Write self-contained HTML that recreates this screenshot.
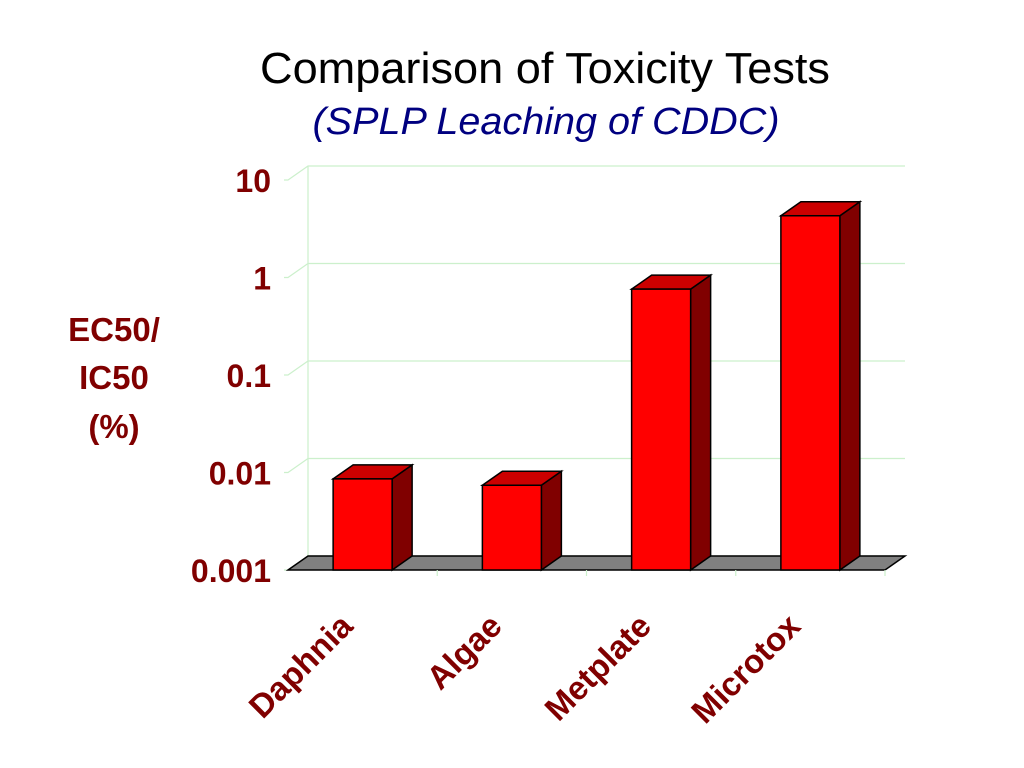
<!DOCTYPE html>
<html><head><meta charset="utf-8"><style>
body{margin:0;background:#fff;}
svg{display:block;font-family:"Liberation Sans",sans-serif;}
</style></head><body>
<svg width="1024" height="768">
<text x="545" y="83" font-size="44" text-anchor="middle" fill="#000" textLength="570" lengthAdjust="spacingAndGlyphs">Comparison of Toxicity Tests</text>
<text x="546" y="134" font-size="38" font-style="italic" text-anchor="middle" fill="#000080" textLength="467" lengthAdjust="spacingAndGlyphs">(SPLP Leaching of CDDC)</text>
<g fill="#800000" font-weight="bold" font-size="33" text-anchor="middle">
<text x="114" y="341">EC50/</text><text x="114" y="389">IC50</text><text x="114" y="438">(%)</text></g>
<g id="grid"></g><g id="floor"></g><g id="bars"></g><g id="labels"></g>
</svg>
<script>
const categories=["Daphnia","Algae","Metplate","Microtox"];
const values=[0.0086,0.0074,0.76,4.3];
const tickValues=[0.001,0.01,0.1,1,10];
const tickLabels=["0.001","0.01","0.1","1","10"];
const NS="http://www.w3.org/2000/svg";
const x0=288,x1=885,yBase=570,dec=97.5,dx=20,dy=-14;
function y(v){return yBase-(Math.log10(v)+3)*dec;}
function xc(i){return x0+(x1-x0)/categories.length*(i+0.5);}
function mk(tag,attrs,parent){const e=document.createElementNS(NS,tag);for(const k in attrs)e.setAttribute(k,attrs[k]);parent.appendChild(e);return e;}
const grid=document.getElementById('grid'),floor=document.getElementById('floor'),bars=document.getElementById('bars'),labels=document.getElementById('labels');
tickValues.forEach((v,i)=>{
  const yy=y(v);
  const g=mk('polyline',{points:`${x0-4},${yy} ${x0},${yy} ${x0+dx},${yy+dy} ${x1+dx},${yy+dy}`,fill:'none',stroke:'#ccf0cc','stroke-width':1.2},grid);
  
  
  const t=mk('text',{x:271,y:yy+12,'font-size':32,'font-weight':'bold','text-anchor':'end',fill:'#800000'},labels);
  t.textContent=tickLabels[i];
  
  
});
const wl=mk('line',{x1:x0+dx,y1:y(10)+dy,x2:x0+dx,y2:yBase+dy,stroke:'#ccf0cc','stroke-width':1.2},grid);


const fl=mk('polygon',{points:`${x0},${yBase} ${x0+dx},${yBase+dy} ${x1+dx},${yBase+dy} ${x1},${yBase}`,fill:'#808080',stroke:'#000','stroke-width':1.5},floor);


for(let i=1;i<=categories.length;i++){
  const xx=x0+(x1-x0)/categories.length*i;
  const tk=mk('line',{x1:xx,y1:yBase,x2:xx,y2:yBase+6,stroke:'#ccf0cc','stroke-width':1.2},floor);
  
  
}
const bw=59;
categories.forEach((c,i)=>{
  const L=xc(i)-bw/2,R=L+bw,T=y(values[i]);
  const g=mk('g',{},bars);
  
  
  mk('polygon',{points:`${R},${T} ${R+dx},${T+dy} ${R+dx},${yBase+dy} ${R},${yBase}`,fill:'#800000',stroke:'#000','stroke-width':1.5},g);
  mk('polygon',{points:`${L},${T} ${L+dx},${T+dy} ${R+dx},${T+dy} ${R},${T}`,fill:'#cc0000',stroke:'#000','stroke-width':1.5},g);
  mk('rect',{x:L,y:T,width:bw,height:yBase-T,fill:'#ff0000',stroke:'#000','stroke-width':1.5},g);
  const cx=xc(i)-8,cy=628;
  const t=mk('text',{x:cx,y:cy,'font-size':33,'font-weight':'bold','text-anchor':'end',fill:'#800000',transform:`rotate(-45 ${cx} ${cy})`},labels);
  t.textContent=c;
  
  
});
</script>
</body></html>
